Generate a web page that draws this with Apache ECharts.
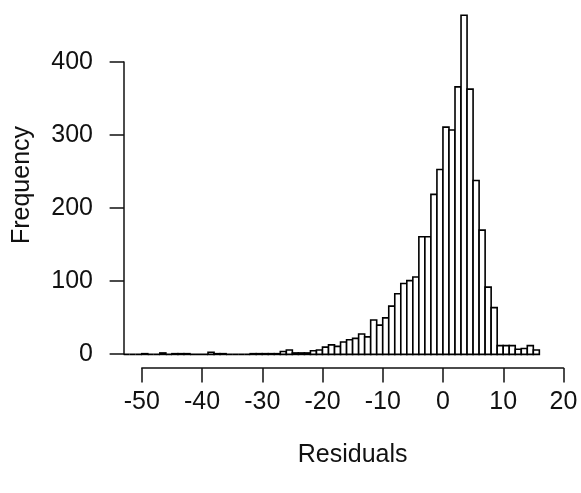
<!DOCTYPE html>
<html>
<head>
<meta charset="utf-8">
<script src="https://cdn.jsdelivr.net/npm/echarts@6/dist/echarts.min.js"></script>
<style>html,body{margin:0;padding:0;background:#fff}#c{width:581px;height:493px}</style>
</head>
<body>
<div id="c"></div>
<script>
// Histogram bins: left edges (width 1) and counts
const binLefts = [-53,-52,-51,-50,-49,-48,-47,-46,-45,-44,-43,-42,-41,-40,-39,-38,-37,-36,-35,-34,-33,-32,-31,-30,-29,-28,-27,-26,-25,-24,-23,-22,-21,-20,-19,-18,-17,-16,-15,-14,-13,-12,-11,-10,-9,-8,-7,-6,-5,-4,-3,-2,-1,0,1,2,3,4,5,6,7,8,9,10,11,12,13,14,15];
const binWidth = 1;
const counts = [0,0,0,1,0,0,2,0,1,1,1,0,0,0,3,1,1,0,0,0,0,1,1,1,1,1,4,6,2,2,2,5,6,10,13,11,17,20,22,28,24,47,40,50,66,83,97,101,106,161,161,219,253,311,307,366,464,363,238,170,92,64,12,12,12,7,8,12,6];
const xTicks = [-50,-40,-30,-20,-10,0,10,20];
const yTicks = [0,100,200,300,400];
const xLabel = 'Residuals';
const yLabel = 'Frequency';

const data = binLefts.map((l, i) => [l, l + binWidth, counts[i]]);
const font = 'Liberation Sans, Arial, sans-serif';
const fs = 25;
const ink = '#111';

const chart = echarts.init(document.getElementById('c'), null, {renderer: 'canvas'});
chart.setOption({
  backgroundColor: '#fff',
  animation: false,
  grid: [
    {left: 124.9, width: 455.4, top: 1.7, height: 366.3},
    {left: 141.8, width: 421.7, top: 1.7, height: 366.3},
    {left: 124, width: 100, top: 62, height: 292}
  ],
  xAxis: [
    {gridIndex: 0, type: 'value', min: -52.8, max: 22.8, show: false},
    {gridIndex: 1, type: 'value', min: xTicks[0], max: xTicks[xTicks.length-1], interval: 10,
     axisLine: {show: true, lineStyle: {color: ink, width: 1.5}},
     axisTick: {show: true, inside: false, length: 14.4, lineStyle: {color: ink, width: 1.5}},
     axisLabel: {show: true, margin: 22, color: ink, fontSize: fs, fontFamily: font},
     splitLine: {show: false}},
    {gridIndex: 2, type: 'value', show: false}
  ],
  yAxis: [
    {gridIndex: 0, type: 'value', min: -18.6, max: 482.6, show: false},
    {gridIndex: 1, type: 'value', show: false},
    {gridIndex: 2, type: 'value', min: yTicks[0], max: yTicks[yTicks.length-1], interval: 100,
     axisLine: {show: true, lineStyle: {color: ink, width: 1.5}},
     axisTick: {show: true, inside: false, length: 14.4, lineStyle: {color: ink, width: 1.5}},
     axisLabel: {show: true, margin: 31, color: ink, fontSize: fs, fontFamily: font},
     splitLine: {show: false}}
  ],
  graphic: [
    {type: 'text', x: 352.6, y: 455, style: {text: xLabel, font: fs + 'px ' + font, fill: ink, align: 'center', verticalAlign: 'middle'}},
    {type: 'text', x: 22, y: 185, rotation: Math.PI / 2, style: {text: yLabel, font: fs + 'px ' + font, fill: ink, align: 'center', verticalAlign: 'middle'}}
  ],
  series: [{
    type: 'custom',
    xAxisIndex: 0, yAxisIndex: 0,
    data: data,
    renderItem: function (params, api) {
      const p0 = api.coord([api.value(0), api.value(2)]);
      const p1 = api.coord([api.value(1), 0]);
      return {
        type: 'rect',
        shape: {x: p0[0], y: p0[1], width: p1[0] - p0[0], height: p1[1] - p0[1]},
        style: {fill: '#fff', stroke: '#000', lineWidth: 1.6}
      };
    }
  }]
});
</script>
</body>
</html>
